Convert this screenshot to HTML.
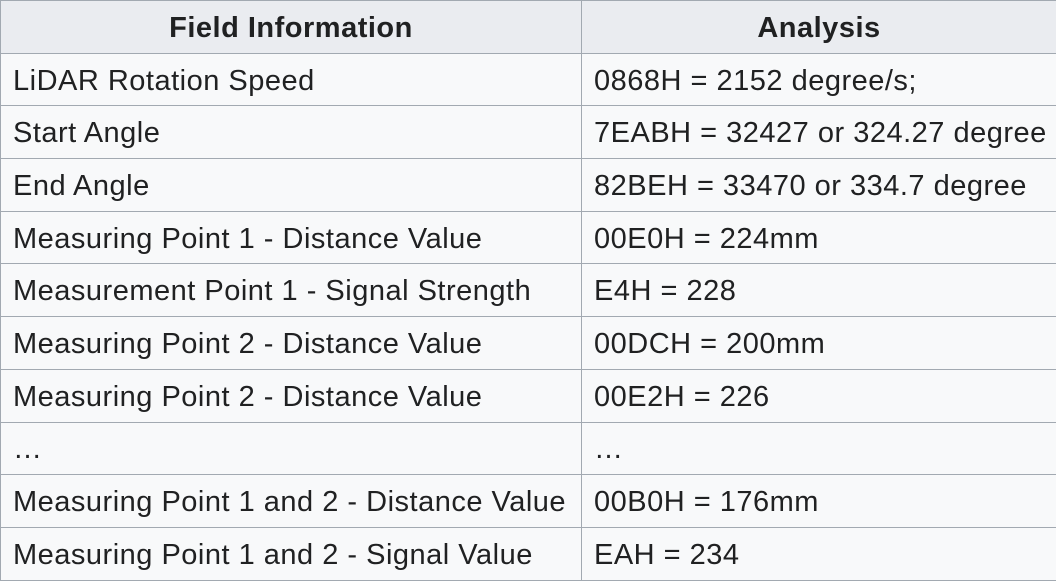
<!DOCTYPE html>
<html><head><meta charset="utf-8"><style>
html,body{margin:0;padding:0;width:1056px;height:580px;overflow:hidden;background:#fff}
table{border-collapse:collapse;position:absolute;left:0;top:0;width:1056px;height:580px;table-layout:fixed;font-family:"Liberation Sans","Noto Sans CJK SC",sans-serif;font-size:29px;letter-spacing:0.5px;color:#202122}
th,td{border:1px solid #a2a9b1;padding:3px 0 0 12px;text-align:left;white-space:nowrap;overflow:hidden}
th{background:#eaecf0;font-weight:bold;text-align:center;padding:3px 0 0 0}
td{background:#f8f9fa}
tr{height:52.7px}
</style></head><body>
<table>
<colgroup><col style="width:581px"><col style="width:475px"></colgroup>
<tr><th>Field Information</th><th>Analysis</th></tr>
<tr><td>LiDAR Rotation Speed</td><td>0868H = 2152 degree/s;</td></tr>
<tr><td>Start Angle</td><td>7EABH = 32427 or 324.27 degree</td></tr>
<tr><td>End Angle</td><td>82BEH = 33470 or 334.7 degree</td></tr>
<tr><td>Measuring Point 1 - Distance Value</td><td>00E0H = 224mm</td></tr>
<tr><td>Measurement Point 1 - Signal Strength</td><td>E4H = 228</td></tr>
<tr><td>Measuring Point 2 - Distance Value</td><td>00DCH = 200mm</td></tr>
<tr><td>Measuring Point 2 - Distance Value</td><td>00E2H = 226</td></tr>
<tr><td>…</td><td>…</td></tr>
<tr><td>Measuring Point 1 and 2 - Distance Value</td><td>00B0H = 176mm</td></tr>
<tr><td>Measuring Point 1 and 2 - Signal Value</td><td>EAH = 234</td></tr>
</table>
</body></html>
